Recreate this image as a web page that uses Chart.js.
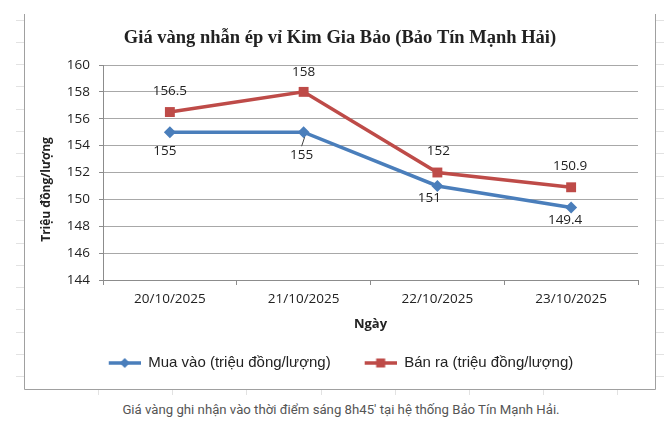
<!DOCTYPE html>
<html lang="vi">
<head>
<meta charset="utf-8">
<title>Giá vàng nhẫn ép vỉ Kim Gia Bảo</title>
<script src="https://cdn.jsdelivr.net/npm/chart.js@4.4.1/dist/chart.umd.min.js"></script>
<style>
  html, body { margin: 0; padding: 0; background: #fff; }
  #wrap { position: relative; width: 664px; height: 426px; overflow: hidden; }
  #goldChart { position: absolute; left: 0; top: 0; }
  #caption {
    position: absolute; left: 9px; top: 402px; width: 664px;
    text-align: center; font: 13.2px Roboto, "Liberation Sans", sans-serif; color: #555;
  }
</style>
</head>
<body>
<div id="wrap">
  <canvas id="goldChart" width="664" height="400"></canvas>
  <div id="caption">Giá vàng ghi nhận vào thời điểm sáng 8h45' tại hệ thống Bảo Tín Mạnh Hải.</div>
</div>
<script>
var DATES = ["20/10/2025", "21/10/2025", "22/10/2025", "23/10/2025"];
var BUY_PRICES = [155, 155, 151, 149.4];
var SELL_PRICES = [156.5, 158, 152, 150.9];
var SERIES_NAMES = ["Mua vào (triệu đồng/lượng)", "Bán ra (triệu đồng/lượng)"];
var Y_MIN = 144;
var Y_MAX = 160;
var Y_STEP = 2;

(function () {
  "use strict";

  var BLUE = "#4a7ebb";
  var RED = "#be4b48";
  var AXIS = "#8c8c8c";
  var GRID = "#a8a8a8";
  var TICK_FONT = { family: "'Open Sans', sans-serif", size: 13.5 };

  // legend sample: short line with the marker in the middle
  function legendIcon(color, shape) {
    var c = document.createElement("canvas");
    c.width = 34;
    c.height = 12;
    var g = c.getContext("2d");
    g.strokeStyle = color;
    g.lineWidth = 3.5;
    g.beginPath();
    g.moveTo(2, 6);
    g.lineTo(34, 6);
    g.stroke();
    g.fillStyle = color;
    if (shape === "diamond") {
      g.beginPath();
      g.moveTo(18, 1);
      g.lineTo(23, 6);
      g.lineTo(18, 11);
      g.lineTo(13, 6);
      g.closePath();
      g.fill();
    } else {
      g.fillRect(13.5, 1.5, 9, 9);
    }
    return c;
  }

  var LEGEND_ICONS = [legendIcon(BLUE, "diamond"), legendIcon(RED, "square")];

  var framePlugin = {
    id: "frame",
    beforeDraw: function (chart) {
      var ctx = chart.ctx;
      ctx.save();
      ctx.fillStyle = "#fff";
      ctx.fillRect(0, 0, chart.width, chart.height);
      // faint sheet cell lines around the chart box
      ctx.strokeStyle = "#e2e2e2";
      ctx.lineWidth = 1;
      ctx.beginPath();
      for (var y = 19.5; y < 389; y += 22.3) {
        var yy = Math.round(y) + 0.5;
        ctx.moveTo(16, yy); ctx.lineTo(24, yy);
        ctx.moveTo(656, yy); ctx.lineTo(664, yy);
      }
      for (var x = 98; x < 656; x += 74.2) {
        var xx = Math.round(x) + 0.5;
        ctx.moveTo(xx, 389); ctx.lineTo(xx, 395);
      }
      ctx.stroke();
      ctx.strokeStyle = "#a0a0a0";
      ctx.beginPath();
      ctx.moveTo(24.5, 14);
      ctx.lineTo(24.5, 389.5);
      ctx.lineTo(655.5, 389.5);
      ctx.lineTo(655.5, 14);
      ctx.stroke();
      ctx.restore();
    }
  };

  // vertical axis title, sits a little below the middle of the plot like the source
  var yTitle = {
    id: "yTitle",
    afterDraw: function (chart, args, opts) {
      var ctx = chart.ctx;
      var area = chart.chartArea;
      ctx.save();
      ctx.translate(opts.x, (area.top + area.bottom) / 2 + opts.shift);
      ctx.rotate(-Math.PI / 2);
      ctx.font = "bold 12px 'Open Sans', sans-serif";
      ctx.fillStyle = "#222";
      ctx.textAlign = "center";
      ctx.textBaseline = "middle";
      ctx.fillText(opts.text, 0, 0);
      ctx.restore();
    }
  };

  var valueLabels = {
    id: "valueLabels",
    afterDatasetsDraw: function (chart, args, opts) {
      var ctx = chart.ctx;
      ctx.save();
      ctx.font = "13.5px 'Open Sans', sans-serif";
      ctx.fillStyle = "#222";
      ctx.textAlign = "center";
      ctx.textBaseline = "middle";
      chart.data.datasets.forEach(function (ds, di) {
        var meta = chart.getDatasetMeta(di);
        var shift = opts.shifts[di];
        meta.data.forEach(function (pt, i) {
          ctx.fillText(String(ds.data[i]), pt.x + shift.dx[i], pt.y + shift.dy[i]);
        });
      });
      // leader line of the crowded label
      var lead = chart.getDatasetMeta(0).data[1];
      ctx.strokeStyle = "#444";
      ctx.lineWidth = 1;
      ctx.beginPath();
      ctx.moveTo(lead.x - 2, lead.y + 14);
      ctx.lineTo(lead.x + 1, lead.y + 5);
      ctx.stroke();
      ctx.restore();
    }
  };

  function init() {
    var ctx = document.getElementById("goldChart").getContext("2d");

    new Chart(ctx, {
      type: "line",
      data: {
        labels: DATES,
        datasets: [
          {
            label: SERIES_NAMES[0],
            data: BUY_PRICES,
            borderColor: BLUE,
            backgroundColor: BLUE,
            borderWidth: 3.5,
            pointStyle: "rectRot",
            pointRadius: 6,
            pointBorderWidth: 0,
            pointBackgroundColor: BLUE,
            tension: 0,
            fill: false,
          },
          {
            label: SERIES_NAMES[1],
            data: SELL_PRICES,
            borderColor: RED,
            backgroundColor: RED,
            borderWidth: 3.5,
            pointStyle: "rect",
            pointRadius: 7,
            pointBorderWidth: 0,
            pointBackgroundColor: RED,
            tension: 0,
            fill: false,
          },
        ],
      },
      options: {
        responsive: false,
        animation: false,
        events: [],
        layout: { padding: { left: 42, right: 26, top: 0, bottom: 19.5 } },
        plugins: {
          title: {
            display: true,
            text: "Giá vàng nhẫn ép vỉ Kim Gia Bảo (Bảo Tín Mạnh Hải)",
            color: "#222",
            font: { family: "'Liberation Serif', 'Times New Roman', serif", size: 18.5, weight: "bold" },
            padding: { top: 27.5, bottom: 15.3 },
          },
          legend: {
            position: "bottom",
            labels: {
              color: "#222",
              font: { family: "'Liberation Sans', Arial, sans-serif", size: 15 },
              usePointStyle: true,
              pointStyleWidth: 34,
              padding: 32,
              generateLabels: function (chart) {
                var items = Chart.defaults.plugins.legend.labels.generateLabels(chart);
                items.forEach(function (item, i) {
                  item.pointStyle = LEGEND_ICONS[i];
                });
                return items;
              },
            },
          },
          tooltip: { enabled: false },
          yTitle: { text: "Triệu đồng/lượng", x: 47, shift: 17 },
          valueLabels: {
            shifts: [
              { dx: [-5, -2, -8, -6], dy: [19, 23, 12.5, 12.5] },
              { dx: [0, 0, 1, -1], dy: [-21, -20, -21, -21] },
            ],
          },
        },
        scales: {
          x: {
            offset: true,
            grid: { drawOnChartArea: false, offset: true, tickLength: 5, color: AXIS },
            border: { color: AXIS },
            ticks: { color: "#222", font: TICK_FONT, padding: 6, maxRotation: 0 },
            title: {
              display: true,
              text: "Ngày",
              color: "#222",
              font: { family: "'Open Sans', sans-serif", size: 13, weight: "bold" },
              padding: { top: 3, bottom: -8.3 },
            },
          },
          y: {
            min: Y_MIN,
            max: Y_MAX,
            grid: { color: GRID, tickLength: 4, tickColor: AXIS },
            border: { color: AXIS },
            ticks: { stepSize: Y_STEP, color: "#222", font: TICK_FONT, padding: 9 },
            afterFit: function (scale) {
              scale.width = 61;
            },
          },
        },
      },
      plugins: [framePlugin, yTitle, valueLabels],
    });
  }

  if (document.readyState === "loading") {
    document.addEventListener("DOMContentLoaded", init);
  } else {
    init();
  }
})();
</script>
</body>
</html>
